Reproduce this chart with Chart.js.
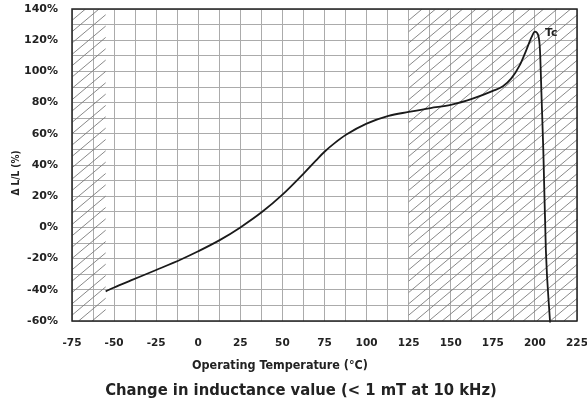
<!DOCTYPE html>
<html>
<head>
<meta charset="utf-8">
<script src="https://cdn.jsdelivr.net/npm/chart.js@4"></script>
<style>
  html, body { margin: 0; padding: 0; background: #fff; }
  #wrap { width: 587px; height: 410px; }
</style>
</head>
<body>
<div id="wrap"><canvas id="c" width="587" height="410"></canvas></div>
<script>
// curve
var temps = [-55, -50, -40, -25, -10, 0, 13, 25, 38, 50, 63, 70, 75, 81, 88, 100, 113, 125, 138, 150, 163, 175, 181, 186, 191, 195, 198, 200, 202, 203, 204, 205, 206.5, 209];
var deltaL = [-41, -38.5, -34, -27.3, -20.4, -15.3, -8, 0, 10, 21, 35, 43, 48.5, 54, 59.5, 66.5, 71.5, 74, 76.5, 78.5, 82.5, 87.5, 90.5, 95.5, 104, 114, 122, 125.5, 123, 113.7, 81.7, 49, -14.5, -61];
var xTicks = [-75, -50, -25, 0, 25, 50, 75, 100, 125, 150, 175, 200, 225];
var yTicks = [-60, -40, -20, 0, 20, 40, 60, 80, 100, 120, 140];
var hatchZones = [[-75, -55], [125, 225]];

var pts = temps.map(function (t, i) { return { x: t, y: deltaL[i] }; });

function fitText(ctx, txt, family, width) {
  ctx.font = 'bold 20px ' + family;
  var size = 20 * width / ctx.measureText(txt).width;
  ctx.font = 'bold ' + size.toFixed(2) + 'px ' + family;
}

function noPad(s) { s.paddingLeft = 0; s.paddingRight = 0; s.paddingTop = 0; s.paddingBottom = 0; }

var extras = {
  id: 'extras',
  beforeDatasetsDraw: function (chart) {
    var ctx = chart.ctx, xs = chart.scales.x, a = chart.chartArea;
    ctx.save();
    ctx.strokeStyle = '#7a7a7a';
    ctx.lineWidth = 0.9;
    var slope = 0.84, step = 13.5;
    hatchZones.forEach(function (z) {
      var x0 = xs.getPixelForValue(z[0]), x1 = xs.getPixelForValue(z[1]);
      ctx.save();
      ctx.beginPath();
      ctx.rect(x0, a.top, x1 - x0, a.bottom - a.top);
      ctx.clip();
      var h = a.bottom - a.top, w = h / slope;
      ctx.beginPath();
      for (var s = x0 - w; s < x1 + step; s += step) {
        ctx.moveTo(s, a.bottom);
        ctx.lineTo(s + w, a.top);
      }
      ctx.stroke();
      ctx.restore();
    });
    ctx.restore();
  },
  afterDraw: function (chart) {
    var ctx = chart.ctx, a = chart.chartArea;
    ctx.save();
    ctx.strokeStyle = '#222';
    ctx.lineWidth = 1.5;
    ctx.strokeRect(a.left, a.top, a.right - a.left, a.bottom - a.top);

    ctx.fillStyle = '#222';
    ctx.textBaseline = 'middle';
    ctx.font = 'bold 11px "DejaVu Sans"';
    ctx.textAlign = 'left';
    ctx.fillText('Tc', 545, 33);

    ctx.textAlign = 'center';
    fitText(ctx, 'Operating Temperature (°C)', '"DejaVu Sans Condensed"', 176);
    ctx.fillText('Operating Temperature (°C)', 280, 366);

    fitText(ctx, 'Change in inductance value (< 1 mT at 10 kHz)', '"DejaVu Sans Condensed"', 392);
    ctx.fillText('Change in inductance value (< 1 mT at 10 kHz)', 301, 391);

    ctx.translate(16, 173);
    ctx.rotate(-Math.PI / 2);
    ctx.font = 'bold 10px "DejaVu Sans Condensed"';
    ctx.fillText('Δ L/L (%)', 0, 0);
    ctx.restore();
  }
};

new Chart(document.getElementById('c'), {
  type: 'line',
  data: {
    datasets: [{
      data: pts,
      borderColor: '#1a1a1a',
      borderWidth: 1.8,
      pointRadius: 0,
      fill: false,
      cubicInterpolationMode: 'monotone',
      clip: 4
    }]
  },
  options: {
    responsive: false,
    animation: false,
    layout: { padding: { top: 9, right: 10, left: 0, bottom: 0 } },
    plugins: { legend: { display: false }, tooltip: { enabled: false } },
    scales: {
      x: {
        type: 'linear',
        min: -75, max: 225,
        afterFit: function (s) { s.height = 89; noPad(s); },
        afterBuildTicks: function (s) {
          var t = [];
          for (var v = -75; v <= 225; v += 12.5) t.push({ value: v });
          s.ticks = t;
        },
        grid: { color: '#ababab', lineWidth: 1, drawTicks: false },
        border: { display: false },
        ticks: {
          padding: 16,
          color: '#222',
          maxRotation: 0,
          autoSkip: false,
          font: { family: 'DejaVu Sans', weight: 'bold', size: 10.5 },
          callback: function (v) { return xTicks.indexOf(v) >= 0 ? String(v) : ''; }
        }
      },
      y: {
        min: -60, max: 140,
        afterFit: function (s) { s.width = 72; noPad(s); },
        afterBuildTicks: function (s) {
          var t = [];
          for (var v = -60; v <= 140; v += 10) t.push({ value: v });
          s.ticks = t;
        },
        grid: { color: '#ababab', lineWidth: 1, drawTicks: false },
        border: { display: false },
        ticks: {
          padding: 14,
          color: '#222',
          autoSkip: false,
          font: { family: 'DejaVu Sans', weight: 'bold', size: 11 },
          callback: function (v) { return yTicks.indexOf(v) >= 0 ? v + '%' : ''; }
        }
      }
    }
  },
  plugins: [extras]
});
</script>
</body>
</html>
